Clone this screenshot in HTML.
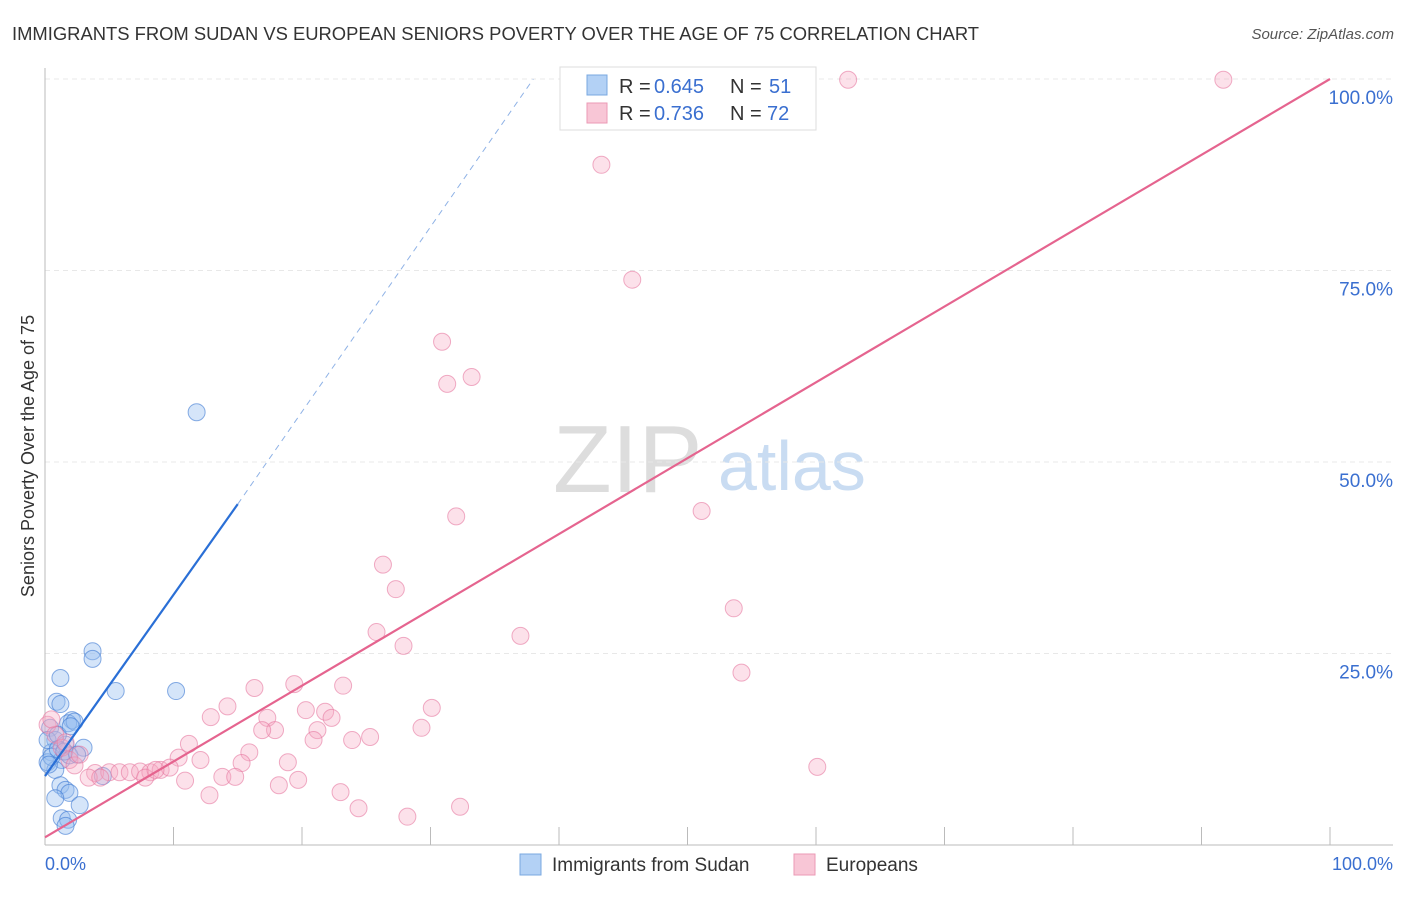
<!DOCTYPE html>
<html><head><meta charset="utf-8"><style>
body{margin:0;background:#fff;font-family:"Liberation Sans",sans-serif}
svg text{font-family:"Liberation Sans",sans-serif}
</style></head><body>
<svg id="c" width="1406" height="892">
<text x="12" y="40" font-size="18.4" fill="#333">IMMIGRANTS FROM SUDAN VS EUROPEAN SENIORS POVERTY OVER THE AGE OF 75 CORRELATION CHART</text>
<text x="1394" y="39" font-size="15" fill="#555" text-anchor="end" font-style="italic">Source: ZipAtlas.com</text>
<text transform="translate(34,456) rotate(-90)" font-size="18" fill="#333" text-anchor="middle">Seniors Poverty Over the Age of 75</text>
<text x="553" y="492" font-size="96" fill="#ddd" font-family="Liberation Serif">ZIP</text>
<text x="718" y="490" font-size="70" fill="#c9dcf2">atlas</text>
<g id="grid"></g><g id="pts"></g><g id="lines"></g>
<g>
<rect x="560" y="67" width="256" height="63" fill="#fff" stroke="#ddd"/>
<rect x="587" y="75" width="20" height="20" fill="#b3d1f5" stroke="#7aa8e0"/>
<rect x="587" y="103" width="20" height="20" fill="#f8c6d6" stroke="#eb9ab5"/>
<text x="619" y="93" font-size="20" fill="#333">R =</text><text x="654" y="93" font-size="20" fill="#3a6fd0">0.645</text>
<text x="730" y="93" font-size="20" fill="#333">N =</text><text x="769" y="93" font-size="20" fill="#3a6fd0">51</text>
<text x="619" y="120" font-size="20" fill="#333">R =</text><text x="654" y="120" font-size="20" fill="#3a6fd0">0.736</text>
<text x="730" y="120" font-size="20" fill="#333">N =</text><text x="767" y="120" font-size="20" fill="#3a6fd0">72</text>
</g>
<g>
<rect x="520" y="854" width="21" height="21" fill="#b3d1f5" stroke="#7aa8e0"/>
<text x="552" y="871" font-size="19" fill="#333">Immigrants from Sudan</text>
<rect x="794" y="854" width="21" height="21" fill="#f8c6d6" stroke="#eb9ab5"/>
<text x="826" y="871" font-size="19" fill="#333">Europeans</text>
</g>
<text x="45" y="870" font-size="18" fill="#3a6fd0">0.0%</text>
<text x="1393" y="870" font-size="18" fill="#3a6fd0" text-anchor="end">100.0%</text>
</svg>
<script>
const yTicks=[25,50,75,100];
const yTickLabels=["25.0%","50.0%","75.0%","100.0%"];
const xTicks=[0,10,20,30,40,50,60,70,80,90,100];
const sudanX=[11.8,3.7,3.7,5.5,10.2,1.2,0.9,1.2,2.1,1.8,2.3,0.4,0.8,1.6,3.0,0.5,1.3,0.2,1.9,0.8,1.2,1.6,1.9,0.8,2.7,1.3,1.8,1.6,4.5,0.2,1.0,0.5,1.0,2.0,0.3,1.5,2.5];
const sudanY=[56.5,25.3,24.3,20.1,20.1,21.8,18.7,18.4,16.3,15.9,16.1,15.3,13.7,13.1,12.7,12.1,11.1,10.8,11.7,9.8,7.8,7.2,6.8,6.1,5.2,3.5,3.3,2.5,9.0,13.7,14.4,11.5,12.5,15.5,10.5,12.2,11.8];
const euroX=[62.5,91.7,43.3,45.7,30.9,31.3,33.2,32.0,51.1,26.3,27.3,53.6,37.0,25.8,27.9,54.2,16.3,19.4,23.2,14.2,12.9,17.3,20.3,21.8,22.3,30.1,17.9,16.9,21.2,20.9,23.9,25.3,29.3,11.2,15.9,10.4,12.1,15.3,18.9,60.1,13.8,14.8,10.9,19.7,18.2,12.8,23.0,24.4,28.2,32.3,3.9,5.0,5.8,6.6,7.4,8.2,9.0,9.7,3.4,4.3,7.8,8.6,0.2,0.8,1.3,1.9,2.3,1.6,0.5,2.7];
const euroY=[99.9,99.9,88.8,73.8,65.7,60.2,61.1,42.9,43.6,36.6,33.4,30.9,27.3,27.8,26.0,22.5,20.5,21.0,20.8,18.1,16.7,16.6,17.6,17.4,16.6,17.9,15.0,15.0,15.0,13.7,13.7,14.1,15.3,13.2,12.1,11.4,11.1,10.7,10.8,10.2,8.9,8.9,8.4,8.5,7.8,6.5,6.9,4.8,3.7,5.0,9.4,9.5,9.5,9.5,9.6,9.5,9.8,10.1,8.8,8.8,8.8,9.8,15.7,14.4,12.7,11.1,10.4,13.4,16.4,11.8];
const sudanLine=[[0,9],[15,44.5],[38,100]];
const euroLine=[[0,1],[100,100]];
const NS="http://www.w3.org/2000/svg";
const X=v=>45+v*12.85, Y=v=>845-v*7.66;
function mk(t,a,p){const e=document.createElementNS(NS,t);for(const k in a)e.setAttribute(k,a[k]);p.appendChild(e);return e;}
const grid=document.getElementById('grid'),pts=document.getElementById('pts'),lines=document.getElementById('lines');
yTicks.forEach((t,i)=>{
 const l=mk('line',{x1:45,x2:1393,y1:Y(t),y2:Y(t),stroke:'#e8e8e8','stroke-dasharray':'5,4'},grid);
 
 
 const tx=mk('text',{x:1393,y:Y(t)+25,'font-size':19,fill:'#3a6fd0','text-anchor':'end'},grid);tx.textContent=yTickLabels[i];
 
 
});
mk('line',{x1:45,x2:45,y1:68,y2:845,stroke:'#bbb'},grid);
mk('line',{x1:45,x2:1393,y1:845,y2:845,stroke:'#bbb'},grid);
xTicks.forEach(t=>{const l=mk('line',{x1:X(t),x2:X(t),y1:827,y2:845,stroke:'#bbb'},grid);
 
 });
sudanX.forEach((v,i)=>{const c=mk('circle',{cx:X(v),cy:Y(sudanY[i]),r:8.5,fill:'rgba(150,190,240,0.4)',stroke:'rgba(60,120,210,0.6)','stroke-width':1},pts);
 
 });
euroX.forEach((v,i)=>{const c=mk('circle',{cx:X(v),cy:Y(euroY[i]),r:8.5,fill:'rgba(245,170,195,0.35)',stroke:'rgba(230,120,160,0.6)','stroke-width':1},pts);
 
 });
let s=sudanLine;
let l1=mk('line',{x1:X(s[0][0]),y1:Y(s[0][1]),x2:X(s[1][0]),y2:Y(s[1][1]),stroke:'#2a6fd6','stroke-width':2.2},lines);


let l2=mk('line',{x1:X(s[1][0]),y1:Y(s[1][1]),x2:X(s[2][0]),y2:Y(s[2][1]),stroke:'#8fb2e6','stroke-width':1,'stroke-dasharray':'6,5'},lines);


let l3=mk('line',{x1:X(euroLine[0][0]),y1:Y(euroLine[0][1]),x2:X(euroLine[1][0]),y2:Y(euroLine[1][1]),stroke:'#e5648f','stroke-width':2.2},lines);


</script>
</body></html>
